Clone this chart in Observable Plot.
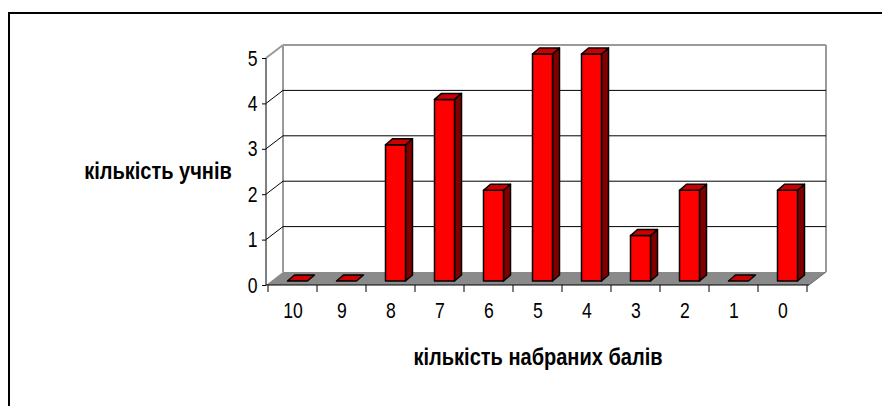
<!DOCTYPE html>
<html><head><meta charset="utf-8">
<script src="https://cdn.jsdelivr.net/npm/d3@7"></script>
<script src="https://cdn.jsdelivr.net/npm/@observablehq/plot@0.6"></script>
<style>
html,body{margin:0;padding:0;background:#fff;overflow:hidden;}
#wrap{position:relative;width:882px;height:406px;overflow:hidden;}
#border{position:absolute;left:8px;top:12px;width:1000px;height:1000px;border:2.5px solid #000;box-sizing:border-box;}
#chart{position:absolute;left:0;top:0;}
</style></head><body>
<div id="wrap"><div id="border"></div><div id="chart"></div></div>
<script>
const scores = ["10","9","8","7","6","5","4","3","2","1","0"];
const counts = [0, 0, 3, 4, 2, 5, 5, 1, 2, 0, 2];
const yTicks = [0, 1, 2, 3, 4, 5];
const yTitle = "кількість учнів";
const xTitle = "кількість набраних балів";

const data = scores.map((s, i) => ({score: s, count: counts[i]}));

const DEPTH_X = 17, DEPTH_Y = -13;   // depth of the 3D box
const BAR_SX = 5, BAR_SY = -4;       // bar front offset inside floor
const BAR_DX = 7, BAR_DY = -6;       // bar depth
const BAR_W = 20;
const NARROW_TICK = 0.8;              // horizontal condensing of tick labels
const NARROW_TITLE = 0.87;            // horizontal condensing of titles
const FONT = "'Liberation Sans',Arial,sans-serif";

const NS = "http://www.w3.org/2000/svg";
function el(tag, attrs) {
  const e = document.createElementNS(NS, tag);
  for (const k in attrs) e.setAttribute(k, attrs[k]);
  return e;
}
const pts = a => a.map(p => p.join(",")).join(" ");

function walls(index, scales, values, dim) {
  const {y} = scales;
  const x0 = dim.marginLeft, x1 = dim.width - dim.marginRight;
  const y0 = y(0), top = y(d3.max(yTicks));
  const g = el("g", {});
  g.append(el("polygon", {points: pts([[x0, y0], [x1, y0], [x1 + DEPTH_X, y0 + DEPTH_Y], [x0 + DEPTH_X, y0 + DEPTH_Y]]), fill: "#8a8a8a", stroke: "none"}));
  g.append(el("line", {x1: x0 + DEPTH_X, y1: y0 + DEPTH_Y, x2: x0 + DEPTH_X, y2: top + DEPTH_Y, stroke: "#9a9a9a", "stroke-width": 2}));
  g.append(el("line", {x1: x1 + DEPTH_X, y1: y0 + DEPTH_Y, x2: x1 + DEPTH_X, y2: top + DEPTH_Y, stroke: "#9a9a9a", "stroke-width": 2}));
  for (const t of yTicks) {
    if (t === 0) continue;
    const yy = y(t);
    const isTop = t === d3.max(yTicks);
    const c = isTop ? "#9a9a9a" : "#000";
    const w = isTop ? 2 : 1;
    g.append(el("line", {x1: x0, y1: yy, x2: x0 + DEPTH_X, y2: yy + DEPTH_Y, stroke: c, "stroke-width": w}));
    g.append(el("line", {x1: x0 + DEPTH_X, y1: yy + DEPTH_Y, x2: x1 + DEPTH_X, y2: yy + DEPTH_Y, stroke: c, "stroke-width": w}));
  }
  g.append(el("line", {x1: x1, y1: y0, x2: x1 + DEPTH_X, y2: y0 + DEPTH_Y, stroke: "#666", "stroke-width": 1}));
  return g;
}

function bars(index, scales, values, dim) {
  const {x, y} = scales;
  const bw = x(scores[1]) - x(scores[0]);
  const g = el("g", {stroke: "#000", "stroke-width": 1.5, "stroke-linejoin": "round"});
  for (const d of data) {
    const cx = x(d.score) + bw / 2 + BAR_SX;
    const L = cx - BAR_W / 2, R = cx + BAR_W / 2;
    const B = y(0) + BAR_SY, T = y(d.count) + BAR_SY;
    if (d.count > 0) {
      g.append(el("polygon", {points: pts([[R, T], [R + BAR_DX, T + BAR_DY], [R + BAR_DX, B + BAR_DY], [R, B]]), fill: "#800000"}));
      g.append(el("rect", {x: L, y: T, width: BAR_W, height: B - T, fill: "#ff0000"}));
    }
    g.append(el("polygon", {points: pts([[L, T], [R, T], [R + BAR_DX, T + BAR_DY], [L + BAR_DX, T + BAR_DY]]), fill: "#cc0000"}));
  }
  return g;
}

function axisLines(index, scales, values, dim) {
  const {x, y} = scales;
  const x0 = dim.marginLeft, x1 = dim.width - dim.marginRight;
  const y0 = y(0), top = y(d3.max(yTicks));
  const bw = x(scores[1]) - x(scores[0]);
  const g = el("g", {stroke: "#000", "stroke-width": 1});
  g.append(el("line", {x1: x0, y1: y0, x2: x0, y2: top}));
  g.append(el("line", {x1: x0, y1: y0, x2: x1, y2: y0}));
  const bounds = scores.map(s => x(s)).concat([x(scores[scores.length - 1]) + bw]);
  for (const b of bounds) g.append(el("line", {x1: b, y1: y0, x2: b, y2: y0 + 7}));
  return g;
}

const chart = Plot.plot({
  width: 882,
  height: 406,
  marginLeft: 266,
  marginRight: 73,
  marginTop: 58,
  marginBottom: 121,
  style: {fontFamily: FONT, fontSize: "22px", color: "#000", background: "transparent", overflow: "visible"},
  x: {type: "band", domain: scores, padding: 0, axis: null},
  y: {domain: [0, 5], axis: null},
  marks: [
    walls,
    bars,
    axisLines,
    Plot.axisY({ticks: yTicks, tickSize: 4, tickPadding: 5, fontSize: 22, tickFormat: d => String(d), label: null}),
    Plot.axisX({tickSize: 0, tickPadding: 17, fontSize: 22, label: null}),
    Plot.text([yTitle], {frameAnchor: "left", dx: -108.5, textAnchor: "middle", fontSize: 23, fontWeight: "bold"}),
    Plot.text([xTitle], {frameAnchor: "bottom", dy: 72, lineAnchor: "middle", fontSize: 23, fontWeight: "bold"})
  ]
});
document.getElementById("chart").append(chart);
// condense the text horizontally (the reference uses a narrow face)
chart.querySelectorAll("text").forEach(t => {
  const len = t.getComputedTextLength();
  const bold = t.closest("[font-weight='bold']") || t.getAttribute("font-weight") === "bold";
  const f = bold ? NARROW_TITLE : NARROW_TICK;
  if (len > 0) {
    t.setAttribute("textLength", (len * f).toFixed(2));
    t.setAttribute("lengthAdjust", "spacingAndGlyphs");
  }
});
</script>
</body></html>
